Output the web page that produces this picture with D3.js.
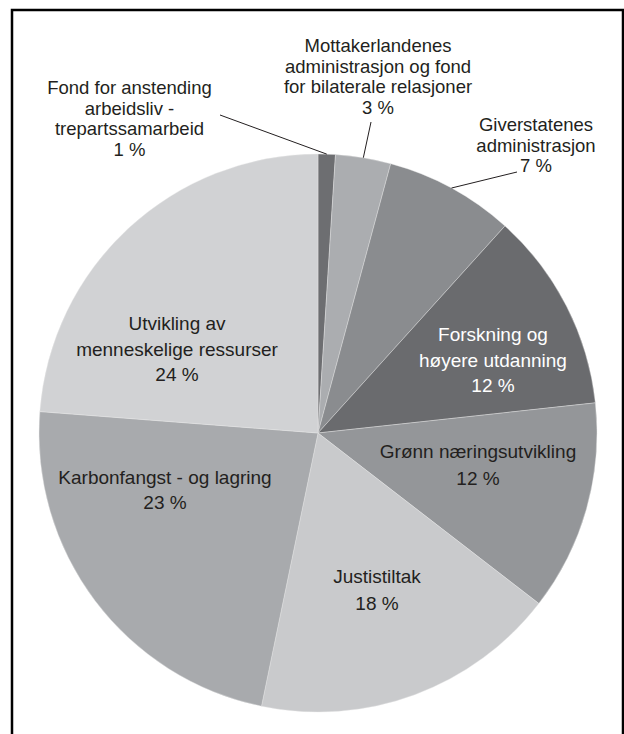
<!DOCTYPE html>
<html>
<head>
<meta charset="utf-8">
<script src="https://cdn.jsdelivr.net/npm/d3@7"></script>
<style>
  html, body { margin: 0; padding: 0; background: #fff; }
  svg { display: block; }
  text { font-family: "Liberation Sans", Arial, sans-serif; }
</style>
</head>
<body>
<div id="chart"></div>
<script>
// ---- data ----
const categories = [
  ["Fond for anstending", "arbeidsliv -", "trepartssamarbeid"],
  ["Mottakerlandenes", "administrasjon og fond", "for bilaterale relasjoner"],
  ["Giverstatenes", "administrasjon"],
  ["Forskning og", "høyere utdanning"],
  ["Grønn næringsutvikling"],
  ["Justistiltak"],
  ["Karbonfangst - og lagring"],
  ["Utvikling av", "menneskelige ressurser"]
];
const values = [1, 3.2, 7.5, 11.6, 12.2, 17.8, 23, 23.8];
const pctLabels = ["1 %", "3 %", "7 %", "12 %", "12 %", "18 %", "23 %", "24 %"];

// ---- style / layout ----
const W = 624, H = 734;
const colors = ["#6d6e71", "#abadb0", "#8a8c8f", "#6a6b6e", "#949699", "#c9cacc", "#a8aaad", "#d1d2d4"];
const textColors = ["#231f20", "#231f20", "#231f20", "#ffffff", "#231f20", "#231f20", "#231f20", "#231f20"];
const cx = 318, cy = 433, R = 279;
// label placement: outside (with leader) or inside; offsets relative to pie centre
const labelLayout = [
  { outside: true, x: -188.5, y: -339, lh: 20.7, fs: 18.5, lead: [-98, -318] },
  { outside: true, x: 60, y: -381, lh: 20.7, fs: 18.5, lead: [53, -311] },
  { outside: true, x: 218, y: -302, lh: 20.7, fs: 18.5, lead: [199, -261] },
  { outside: false, x: 175, y: -92, lh: 25.5, fs: 19 },
  { outside: false, x: 160, y: 25, lh: 27, fs: 19 },
  { outside: false, x: 59, y: 150, lh: 27, fs: 19 },
  { outside: false, x: -153, y: 51, lh: 25, fs: 19 },
  { outside: false, x: -141, y: -103, lh: 25.5, fs: 19 }
];

const svg = d3.select("#chart").append("svg")
  .attr("width", W).attr("height", H);

// frame
svg.append("rect")
  .attr("x", 12).attr("y", 10)
  .attr("width", 611).attr("height", 800)
  .attr("fill", "none").attr("stroke", "#000").attr("stroke-width", 2.5);

const g = svg.append("g").attr("transform", `translate(${cx},${cy})`);

const pie = d3.pie().sort(null).value(d => d)(values);
const arc = d3.arc().innerRadius(0).outerRadius(R);

g.selectAll("path.slice")
  .data(pie)
  .join("path")
  .attr("class", "slice")
  .attr("d", arc)
  .attr("fill", (d, i) => colors[i])
  .attr("stroke", "#e8e8e9")
  .attr("stroke-width", 0.4);

// leader lines
pie.forEach((d, i) => {
  const L = labelLayout[i];
  if (!L.outside) return;
  const a = (d.startAngle + d.endAngle) / 2;
  const x0 = Math.sin(a) * R, y0 = -Math.cos(a) * R;
  g.append("line")
    .attr("x1", x0).attr("y1", y0)
    .attr("x2", L.lead[0]).attr("y2", L.lead[1])
    .attr("stroke", "#231f20").attr("stroke-width", 1);
});

// labels
pie.forEach((d, i) => {
  const L = labelLayout[i];
  const lines = categories[i].concat([pctLabels[i]]);
  const t = g.append("text")
    .attr("text-anchor", "middle")
    .attr("font-size", L.fs)
    .attr("fill", textColors[i]);
  lines.forEach((ln, k) => {
    t.append("tspan")
      .attr("x", L.x)
      .attr("y", L.y + k * L.lh)
      .text(ln);
  });
});
</script>
</body>
</html>
